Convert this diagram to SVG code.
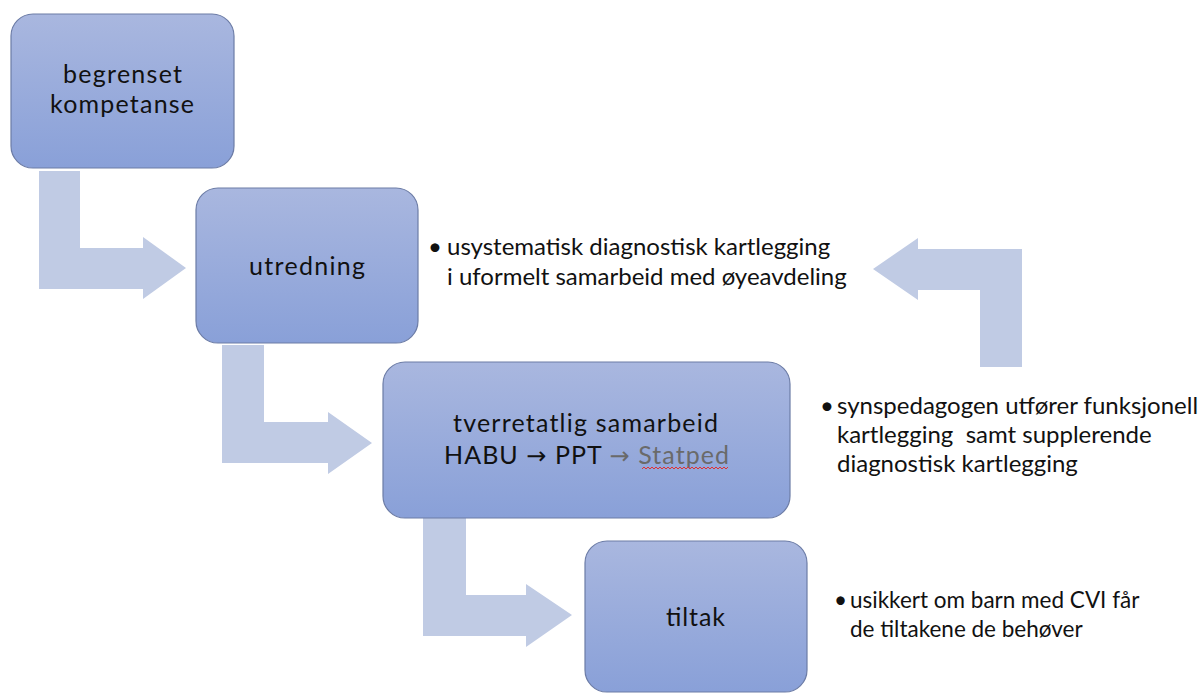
<svg xmlns="http://www.w3.org/2000/svg" width="1201" height="693" viewBox="0 0 1201 693">
<defs>
<linearGradient id="g" x1="0" y1="0" x2="0" y2="1">
<stop offset="0" stop-color="#a9b7df"/>
<stop offset="1" stop-color="#89a0d8"/>
</linearGradient>
<style>
.box{fill:url(#g);stroke:#6c7ca6;stroke-width:1.2}
.arr{fill:#c0cbe4}
.bt{font-family:Lato,"Liberation Sans",sans-serif;font-size:25px;fill:#111;text-anchor:middle}
.st{font-family:Lato,"Liberation Sans",sans-serif;font-size:24px;fill:#111;white-space:pre}
.sm{font-size:22.5px}
.gr{fill:#6a6a6a}
.ar{font-family:"DejaVu Sans",sans-serif;font-size:24px}
</style>
</defs>
<rect width="1201" height="693" fill="#fff"/>
<g id="connectors">
<path class="arr" d="M39,171 H80 V248 H143 V237 L186,268 L143,299 V289 H39 Z"/>
<path class="arr" d="M222,345 H264 V422 H328 V412 L372,443 L328,474 V463 H222 Z"/>
<path class="arr" d="M423,518 H466 V595 H526 V584 L572,615 L526,647 V636 H423 Z"/>
<path class="arr" d="M1022,367 H980 V290 H918 V300 L873,269 L918,238 V249 H1022 Z"/>
</g>
<g id="n1">
<rect class="box" x="11" y="14" width="223" height="154" rx="22"/>
<text class="bt" x="122.5" y="83" textLength="119" lengthAdjust="spacing">begrenset</text>
<text class="bt" x="122" y="113" textLength="144" lengthAdjust="spacing">kompetanse</text>
</g>
<g id="n2">
<rect class="box" x="196" y="188" width="222" height="155" rx="22"/>
<text class="bt" x="307" y="275" textLength="116" lengthAdjust="spacing">utredning</text>
</g>
<g id="n3">
<rect class="box" x="383" y="362" width="407" height="156" rx="22"/>
<text class="bt" x="585.5" y="432" textLength="265" lengthAdjust="spacing">tverretatlig samarbeid</text>
<text class="bt" x="586.5" y="464" textLength="285" lengthAdjust="spacing">HABU <tspan class="ar">→</tspan> PPT <tspan class="gr"><tspan class="ar">→</tspan> Statped</tspan></text>
<path d="M642,469 l2,-2 l2,2 l2,-2 l2,2 l2,-2 l2,2 l2,-2 l2,2 l2,-2 l2,2 l2,-2 l2,2 l2,-2 l2,2 l2,-2 l2,2 l2,-2 l2,2 l2,-2 l2,2 l2,-2 l2,2 l2,-2 l2,2 l2,-2 l2,2 l2,-2 l2,2 l2,-2 l2,2 l2,-2 l2,2 l2,-2 l2,2 l2,-2 l2,2 l2,-2 l2,2 l2,-2 l2,2 l2,-2 l2,2 l2,-2" fill="none" stroke="#e03030" stroke-width="1"/>
</g>
<g id="n4">
<rect class="box" x="585" y="541" width="222" height="151" rx="22"/>
<text class="bt" x="695.5" y="626" textLength="59" lengthAdjust="spacing">tiltak</text>
</g>
<g id="t1">
<text class="st" x="428" y="255">•</text>
<text class="st" x="447" y="255">usystematisk diagnostisk kartlegging</text>
<text class="st" x="447" y="285">i uformelt samarbeid med øyeavdeling</text>
</g>
<g id="t2">
<text class="st" x="820" y="414">•</text>
<text class="st" x="837" y="414">synspedagogen utfører funksjonell</text>
<text class="st" x="837" y="443">kartlegging  samt supplerende</text>
<text class="st" x="837" y="472">diagnostisk kartlegging</text>
</g>
<g id="t3">
<text class="st sm" x="834" y="608">•</text>
<text class="st sm" x="850" y="608">usikkert om barn med CVI får</text>
<text class="st sm" x="850" y="637">de tiltakene de behøver</text>
</g>
</svg>
